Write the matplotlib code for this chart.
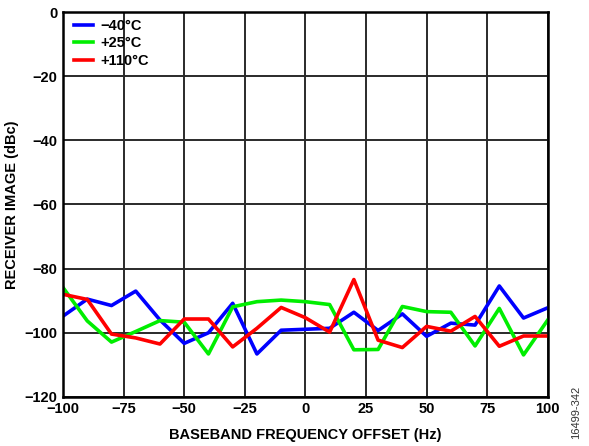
import matplotlib
matplotlib.use("Agg")
import matplotlib.pyplot as plt

plt.rcParams['font.family'] = ['Liberation Sans', 'DejaVu Sans']

freq = [-100, -90, -80, -70, -60, -50, -40, -30, -20, -10, 0,
        10, 20, 30, 40, 50, 60, 70, 80, 90, 100]
m40 = [-94.8, -89.5, -91.5, -87.0, -96.0, -103.3, -100.0, -90.8, -106.6, -99.2, -98.9,
       -98.6, -93.6, -99.3, -94.1, -101.1, -97.0, -97.6, -85.4, -95.4, -92.2]
p25 = [-85.9, -96.3, -102.9, -99.6, -96.2, -96.7, -106.6, -91.9, -90.3, -89.8, -90.3,
       -91.2, -105.3, -105.2, -91.8, -93.4, -93.6, -104.1, -92.4, -106.9, -96.0]
p110 = [-88.0, -89.6, -100.4, -101.6, -103.5, -95.7, -95.7, -104.4, -98.6, -92.1, -95.3,
        -99.8, -83.4, -102.3, -104.6, -98.0, -99.5, -94.9, -104.2, -101.0, -101.0]
labels = ['\u221240\u00b0C', '+25\u00b0C', '+110\u00b0C']
colors = ['#0000ff', '#00ee00', '#ff0000']

fig = plt.figure(figsize=(5.89, 4.46), dpi=100)
ax = fig.add_axes([0.107, 0.110, 0.823, 0.863])

for ys, lab, c in zip([m40, p25, p110], labels, colors):
    ax.plot(freq, ys, color=c, lw=2.6, label=lab)

ax.set_xlim(-100, 100)
ax.set_ylim(-120, 0)
ax.set_xticks(range(-100, 101, 25))
ax.set_yticks(range(-120, 1, 20))
ax.grid(True, color='#2a2a2a', lw=1.4)
ax.set_axisbelow(True)
for s in ax.spines.values():
    s.set_linewidth(1.8)
    s.set_color('black')
ax.tick_params(length=0, pad=4, labelsize=10.5)
for t in ax.get_xticklabels() + ax.get_yticklabels():
    t.set_fontweight('bold')

ax.set_xlabel('BASEBAND FREQUENCY OFFSET (Hz)', fontsize=10.5, fontweight='bold', labelpad=8)
ax.set_ylabel('RECEIVER IMAGE (dBc)', fontsize=10.5, fontweight='bold', labelpad=4)

leg = ax.legend(loc='upper left', frameon=False, handlelength=1.3, handletextpad=0.5,
                labelspacing=0.25, borderaxespad=0.2, borderpad=0.25,
                bbox_to_anchor=(0.01, 1.0),
                prop={'weight': 'bold', 'size': 10.5})

fig.text(0.978, 0.015, '16499-342', rotation=90, fontsize=8, color='#333333',
         ha='center', va='bottom')

fig.savefig('out.png', dpi=100)
